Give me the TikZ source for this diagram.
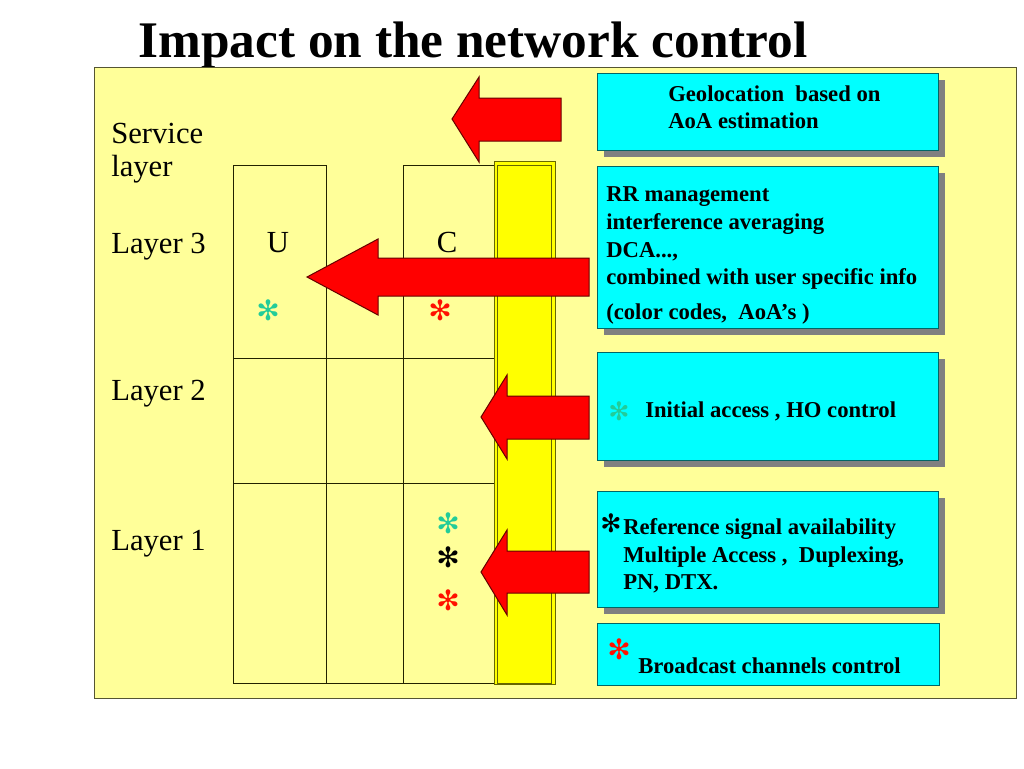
\documentclass[tikz,border=0pt]{standalone}
\usepackage{fontspec}
\setmainfont{Liberation Serif}
\newfontfamily\symfont{DejaVu Sans}
\definecolor{panelfill}{HTML}{FFFF99}
\definecolor{panelline}{HTML}{555533}
\definecolor{gridline}{HTML}{222200}
\definecolor{barfill}{HTML}{FFFF00}
\definecolor{barline}{HTML}{666600}
\definecolor{arrred}{HTML}{FF0000}
\definecolor{arrline}{HTML}{660000}
\definecolor{boxcyan}{HTML}{00FFFF}
\definecolor{boxline}{HTML}{006666}
\definecolor{shadowgrey}{HTML}{808080}
\definecolor{stargreen}{HTML}{22CC99}
\definecolor{starred}{HTML}{FF1100}
\begin{document}
\begin{tikzpicture}[x=0.75pt,y=-0.75pt,
  lbl/.style={inner sep=0pt, anchor=base west, font=\fontsize{23}{28}\selectfont},
  btxt/.style={inner sep=0pt, anchor=base west, font=\fontsize{17}{20}\selectfont\bfseries},
  starmark/.style={inner sep=0pt, anchor=center, font=\symfont\fontsize{21}{24}\selectfont},
  redarrow/.style={fill=arrred, draw=arrline, line width=0.75pt, line join=miter},
  cbox/.style={fill=boxcyan, draw=boxline, line width=0.75pt},
  sbox/.style={fill=shadowgrey},
  gridl/.style={draw=gridline, line width=0.75pt}]
\useasboundingbox (0,0) rectangle (1024,768);
\fill[white] (0,0) rectangle (1024,768);

% title
\node[inner sep=0pt, anchor=base, font=\fontsize{38.5}{46}\selectfont\bfseries] (title) at (473,57) {Impact on the network control};

% panel
\draw[fill=panelfill, draw=panelline, line width=0.75pt] (94,67) rectangle (1016,698);

% grid
\draw[gridl] (233,165) rectangle (326,358);
\draw[gridl] (403,165) rectangle (496,358);
\draw[gridl] (233,358) rectangle (496,683);
\draw[gridl] (233,483) -- (496,483);
\draw[gridl] (326,358) -- (326,683);
\draw[gridl] (403,358) -- (403,683);

% yellow bar
\draw[fill=barfill, draw=barline, line width=0.75pt] (494,161) rectangle (555,684);
\draw[fill=barfill, draw=barline, line width=0.75pt] (497,165) rectangle (551,683);

% left labels
\node[lbl] (svc1) at (111,143) {Service};
\node[lbl] (svc2) at (111,176) {layer};
\node[lbl] (l3) at (111,253) {Layer 3};
\node[lbl] (l2) at (111,400) {Layer 2};
\node[lbl] (l1) at (111,550) {Layer 1};
\node[inner sep=0pt, anchor=base, font=\fontsize{23}{28}\selectfont] (uu) at (278,252) {U};
\node[inner sep=0pt, anchor=base, font=\fontsize{23}{28}\selectfont] (cc) at (447,252) {C};

% stars in grid
\node[starmark, text=stargreen] (s1) at (268,310) {✻};
\node[starmark, text=starred] (s2) at (440,310) {✻};
\node[starmark, text=stargreen] (s3) at (448,523) {✻};
\node[starmark, text=black] (s4) at (448,557) {✻};
\node[starmark, text=starred] (s5) at (448,600) {✻};

% arrows
\draw[redarrow] (561,98) -- (479,98) -- (479,77) -- (452,119) -- (479,162) -- (479,141) -- (561,141) -- cycle;
\draw[redarrow] (589,258) -- (378,258) -- (378,239) -- (307,277) -- (378,315) -- (378,296) -- (589,296) -- cycle;
\draw[redarrow] (589,396) -- (507,396) -- (507,375) -- (481,417) -- (507,459) -- (507,439) -- (589,439) -- cycle;
\draw[redarrow] (589,551) -- (507,551) -- (507,530) -- (481,572) -- (507,615) -- (507,593) -- (589,593) -- cycle;

% boxes with shadows
\fill[sbox] (604,80) rectangle (945,157);
\draw[cbox] (597,73) rectangle (938,150);
\fill[sbox] (604,173) rectangle (945,335);
\draw[cbox] (597,166) rectangle (938,328);
\fill[sbox] (604,359) rectangle (945,467);
\draw[cbox] (597,352) rectangle (938,460);
\fill[sbox] (604,498) rectangle (945,614);
\draw[cbox] (597,491) rectangle (938,607);
\draw[cbox] (597,623) rectangle (939,685);

% box texts
\node[btxt] (g1) at (668,101) {Geolocation~ based on};
\node[btxt] (g2) at (668,128) {AoA estimation};
\node[btxt] (r1) at (606,201) {RR management};
\node[btxt] (r2) at (606,229) {interference averaging};
\node[btxt] (r3) at (606,257) {DCA...,};
\node[btxt] (r4) at (606,284) {combined with user specific info};
\node[btxt] (r5) at (606,319) {(color codes,~ AoA’s )};
\node[starmark, text=stargreen, font=\symfont\fontsize{19}{22}\selectfont] (s6) at (619,411) {✻};
\node[btxt] (i1) at (645,417) {Initial access , HO control};
\node[starmark, text=black, font=\symfont\fontsize{19}{22}\selectfont] (s7) at (611,523) {✻};
\node[btxt] (f1) at (623,534) {Reference signal availability};
\node[btxt] (f2) at (623,562) {Multiple Access ,~ Duplexing,};
\node[btxt] (f3) at (623,589) {PN, DTX.};
\node[starmark, text=starred, font=\symfont\fontsize{21}{24}\selectfont] (s8) at (619,649) {✻};
\node[btxt] (b1) at (638,673) {Broadcast channels control};
\end{tikzpicture}
\end{document}
